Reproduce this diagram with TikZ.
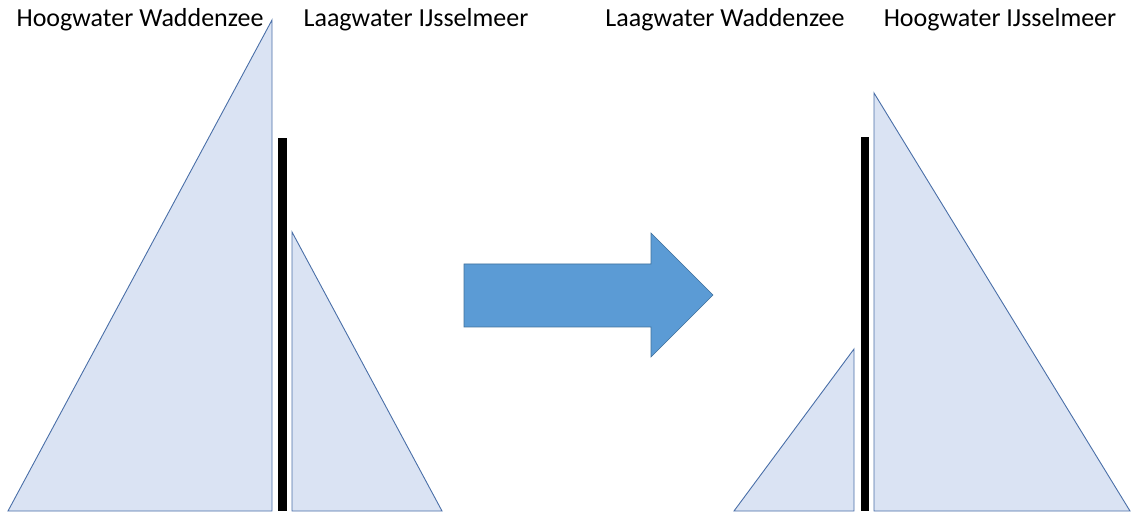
\documentclass[tikz,border=0pt]{standalone}
\usepackage{fontspec}
\setmainfont{Carlito}
\definecolor{waterfill}{HTML}{DAE3F3}
\definecolor{waterline}{HTML}{4A6FA8}
\definecolor{arrowfill}{HTML}{5B9BD5}
\definecolor{arrowline}{HTML}{41719C}
\begin{document}
\begin{tikzpicture}[x=1pt,y=1pt,
  water/.style={fill=waterfill,draw=waterline,line width=0.9pt,line join=miter},
  dam/.style={fill=black,draw=none},
  bigarrow/.style={fill=arrowfill,draw=arrowline,line width=0.6pt},
  lbl/.style={font=\fontsize{26}{31}\selectfont,anchor=base,inner sep=0pt}]
\useasboundingbox (0,0) rectangle (1133,512);
% left situation
\draw[water] (8,1) -- (272,492) -- (272,1) -- cycle;
\fill[dam] (278,1) rectangle (287,374);
\draw[water] (292,1) -- (292,280) -- (442,1) -- cycle;
% arrow
\draw[bigarrow] (464,248) -- (651,248) -- (651,279) -- (713,217) -- (651,155) -- (651,185) -- (464,185) -- cycle;
% right situation
\draw[water] (734,1) -- (854,163) -- (854,1) -- cycle;
\fill[dam] (861,1) rectangle (869,375);
\draw[water] (874,1) -- (874,419) -- (1130,1) -- cycle;
% labels
\node[lbl] (hw) at (140,485) {Hoogwater Waddenzee};
\node[lbl] (li) at (416,485) {Laagwater IJsselmeer};
\node[lbl] (lw) at (725,485) {Laagwater Waddenzee};
\node[lbl] (hi) at (1000,485) {Hoogwater IJsselmeer};
\end{tikzpicture}
\end{document}
